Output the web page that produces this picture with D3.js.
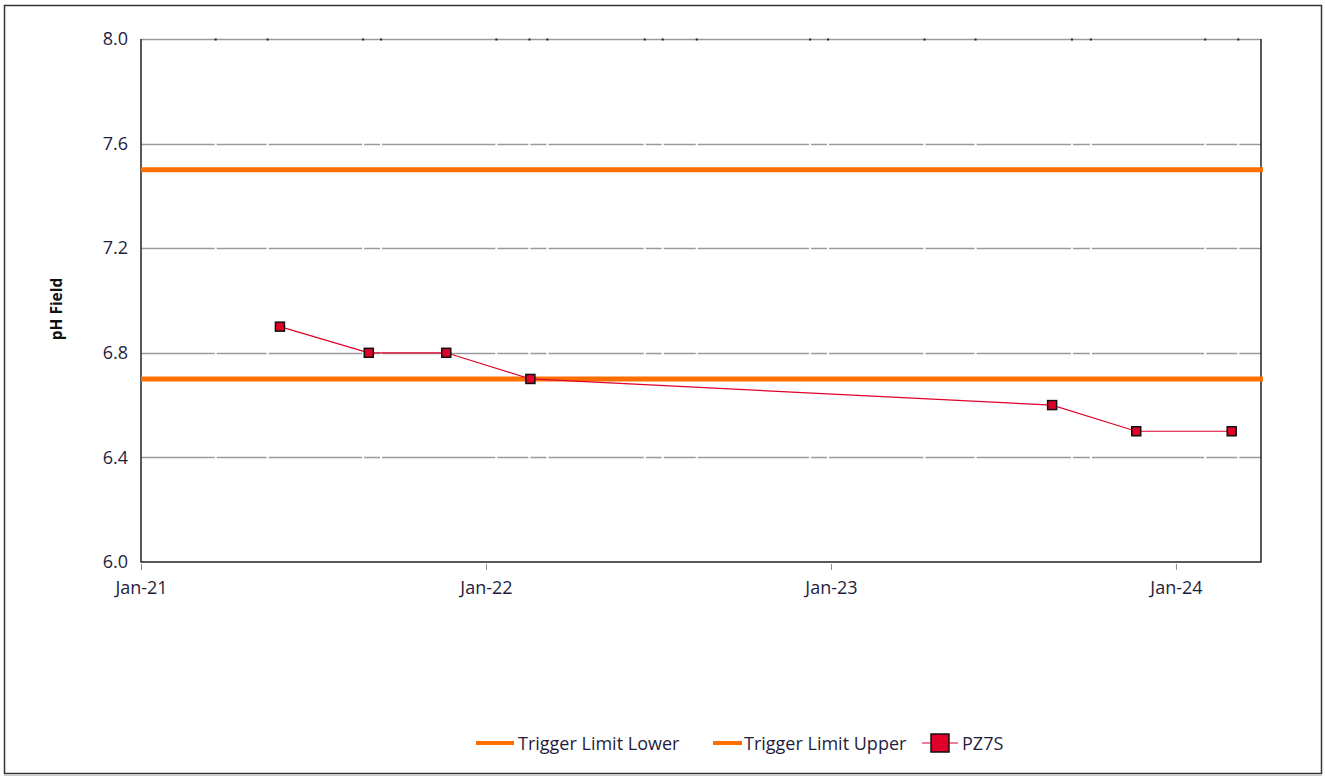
<!DOCTYPE html>
<html><head><meta charset="utf-8">
<script src="https://cdn.jsdelivr.net/npm/d3@7"></script>
<style>body{margin:0;background:#fff}svg{display:block}text{font-family:"Open Sans",Lato,sans-serif}</style>
</head><body><svg id="c" width="1325" height="776"></svg>
<script>
const sampleDates = ["2021-05-28","2021-08-30","2021-11-20","2022-02-17","2023-08-23","2023-11-20","2024-02-29"];
const pz7sValues = [6.9,6.8,6.8,6.7,6.6,6.5,6.5];
const triggerLower = 6.7;
const triggerUpper = 7.5;
const yTicks = [6.0,6.4,6.8,7.2,7.6,8.0];
const xTickDates = ["2021-01-01","2022-01-01","2023-01-01","2024-01-01"];
const xTickLabels = ["Jan-21","Jan-22","Jan-23","Jan-24"];
const minorTickDates = ["2021-03-21","2021-05-15","2021-08-24","2021-09-12","2022-01-12","2022-02-16","2022-03-07","2022-06-18","2022-07-07","2022-08-12","2022-12-10","2022-12-29","2023-04-10","2023-06-03","2023-09-13","2023-10-03","2024-02-01","2024-03-07"];
const legendLabels = ["Trigger Limit Lower","Trigger Limit Upper","PZ7S"];

const P = d3.timeParse("%Y-%m-%d");
const svg = d3.select("#c");
const L=141,R=1261,T=39,B=562;
const x = d3.scaleTime().domain([P("2021-01-01"),P("2024-03-31")]).range([L,R]);
const y = d3.scaleLinear().domain([6,8]).range([B,T]);
const txt="#1f1d3d", orange="#ff6f00", red="#e0002a";
const fs=18;

// outer frame
svg.append("rect").attr("x",4.5).attr("y",5.5).attr("width",1317).attr("height",768).attr("fill","none").attr("stroke","#333").attr("stroke-width",1.5);
svg.append("line").attr("x1",4).attr("x2",1322).attr("y1",775).attr("y2",775).attr("stroke","#ccc").attr("stroke-width",2);

// gridlines
const g = svg.append("g");
g.selectAll("line.grid").data(yTicks.slice(1)).join("line").attr("class","grid")
 .attr("x1",L).attr("x2",R).attr("y1",d=>Math.round(y(d))+0.5).attr("y2",d=>Math.round(y(d))+0.5)
 .attr("stroke","#9a9a9a").attr("stroke-width",1.5);
yTicks.slice(1,-1).forEach(v=>{
  g.selectAll(null).data(minorTickDates).join("rect")
   .attr("x",d=>x(P(d))-1).attr("y",Math.round(y(v))-1.5).attr("width",2).attr("height",4).attr("fill","#fff");
});
g.selectAll("rect.mt").data(minorTickDates).join("rect").attr("class","mt")
 .attr("x",d=>x(P(d))-1).attr("y",T-0.5).attr("width",2).attr("height",2).attr("fill","#222");

// axes lines
svg.append("line").attr("x1",L).attr("x2",L).attr("y1",T).attr("y2",B+0.5).attr("stroke","#222").attr("stroke-width",1.5);
svg.append("line").attr("x1",R).attr("x2",R).attr("y1",T).attr("y2",B+0.5).attr("stroke","#222").attr("stroke-width",1.5);
svg.append("line").attr("x1",L).attr("x2",R).attr("y1",B).attr("y2",B).attr("stroke","#222").attr("stroke-width",1.5);

// x axis
const xa = d3.axisBottom(x).tickValues(xTickDates.map(P)).tickSize(6).tickPadding(13)
  .tickFormat((d,i)=>xTickLabels[i]);
const xg = svg.append("g").attr("transform",`translate(0,${B})`).call(xa);
xg.select(".domain").remove();
xg.selectAll(".tick line").attr("stroke","#888").attr("y1",2).attr("y2",8);
xg.selectAll("text").attr("fill",txt).attr("font-size",fs);

// y axis
const ya = d3.axisLeft(y).tickValues(yTicks).tickSize(0).tickPadding(13).tickFormat(d3.format(".1f"));
const yg = svg.append("g").attr("transform",`translate(${L},0)`).call(ya);
yg.select(".domain").remove();
yg.selectAll("text").attr("fill",txt).attr("font-size",fs);

svg.append("text").attr("transform",`translate(62,309) rotate(-90)`).attr("text-anchor","middle")
 .attr("font-weight","bold").attr("font-size",15.5).attr("fill","#111").text("pH Field");

// trigger lines
[triggerLower,triggerUpper].forEach(v=>{
  svg.append("line").attr("x1",L).attr("x2",R+2).attr("y1",y(v)).attr("y2",y(v)).attr("stroke",orange).attr("stroke-width",5);
});

// series
const data = sampleDates.map((d,i)=>({d:P(d),v:pz7sValues[i]}));
svg.append("path").datum(data).attr("fill","none").attr("stroke",red).attr("stroke-width",1.2)
 .attr("d",d3.line().x(d=>x(d.d)).y(d=>y(d.v)));
svg.selectAll("rect.pt").data(data).join("rect").attr("class","pt")
 .attr("x",d=>x(d.d)-4.5).attr("y",d=>y(d.v)-4.5).attr("width",9).attr("height",9)
 .attr("fill",red).attr("stroke","#111").attr("stroke-width",1.5);

// legend
const ly=743;
const lg = svg.append("g");
lg.append("line").attr("x1",476).attr("x2",514).attr("y1",ly).attr("y2",ly).attr("stroke",orange).attr("stroke-width",4);
lg.append("text").attr("x",518).attr("y",ly+6.5).attr("font-size",fs).attr("fill",txt).text(legendLabels[0]);
lg.append("line").attr("x1",713).attr("x2",742).attr("y1",ly).attr("y2",ly).attr("stroke",orange).attr("stroke-width",4);
lg.append("text").attr("x",744).attr("y",ly+6.5).attr("font-size",fs).attr("fill",txt).text(legendLabels[1]);
lg.append("line").attr("x1",922).attr("x2",958).attr("y1",ly).attr("y2",ly).attr("stroke",red).attr("stroke-width",1.2);
lg.append("rect").attr("x",931).attr("y",ly-9).attr("width",18).attr("height",18).attr("fill",red).attr("stroke","#111").attr("stroke-width",1.5);
lg.append("text").attr("x",962).attr("y",ly+6.5).attr("font-size",fs).attr("fill",txt).text(legendLabels[2]);
</script></body></html>
